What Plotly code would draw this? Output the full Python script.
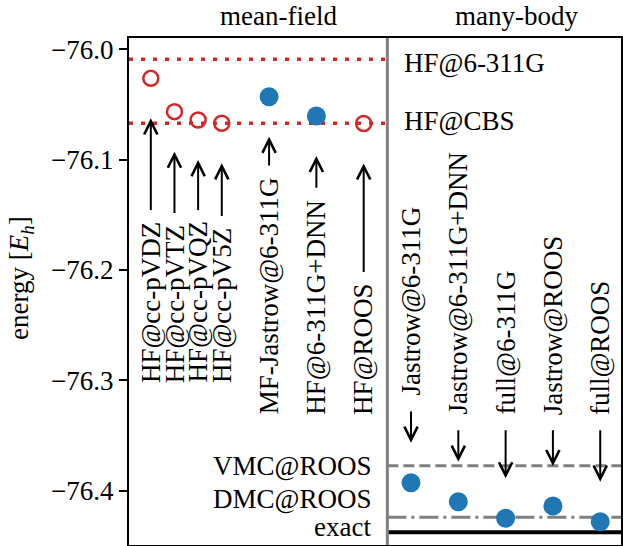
import plotly.graph_objects as go

# ---- data -------------------------------------------------------------
mf_labels = ["HF@cc-pVDZ", "HF@cc-pVTZ", "HF@cc-pVQZ", "HF@cc-pV5Z",
             "MF-Jastrow@6-311G", "HF@6-311G+DNN", "HF@ROOS"]
mf_energy = [-76.0263, -76.0565, -76.0641, -76.0670, -76.0430, -76.0604, -76.0672]
mf_is_reference = [True, True, True, True, False, False, True]

mb_labels = ["Jastrow@6-311G", "Jastrow@6-311G+DNN", "full@6-311G",
             "Jastrow@ROOS", "full@ROOS"]
mb_energy = [-76.3928, -76.4100, -76.4250, -76.4139, -76.4281]

ref_labels = ["HF@6-311G", "HF@CBS", "VMC@ROOS", "DMC@ROOS", "exact"]
ref_energy = [-76.0091, -76.0671, -76.3773, -76.4241, -76.4377]

tick_values = [-76.0, -76.1, -76.2, -76.3, -76.4]
tick_labels = ["\u221276.0", "\u221276.1", "\u221276.2", "\u221276.3", "\u221276.4"]

# ---- layout constants ---------------------------------------------------
W, H = 623, 546
M_L, M_R, M_T, M_B = 129, 0, 38, 1
PLOT_H = H - M_T - M_B
X_RANGE = [-0.461, 9.939]
Y_RANGE = [-76.4492, -75.98976]
SEPARATOR = 5.0
mf_x = [0, 0.5, 1.0, 1.5, 2.5, 3.5, 4.5]
mb_x = [5.5, 6.5, 7.5, 8.5, 9.5]
mf_label_base = [-76.304, -76.304, -76.304, -76.304, -76.333, -76.333, -76.333]
mb_label_base = [-76.316, -76.333, -76.333, -76.333, -76.333]

FONT = "Liberation Serif"
FS = 27
RED, BLUE, GRAY = "#d62728", "#1f77b4", "#808080"
ARROW_GAP = 12       # px between label end and arrow tail
ARROW_STANDOFF = 40  # px between arrow tip and marker

# Times-metric advance widths (per 1000 em) used to size rotated labels
ADV = {'H': 722, 'F': 556, '@': 921, 'c': 444, '-': 333, 'p': 500, 'V': 722,
       'D': 722, 'Z': 611, 'T': 611, 'Q': 722, '5': 500, 'M': 889, 'J': 389,
       'a': 444, 's': 389, 't': 278, 'r': 333, 'o': 500, 'w': 722, '6': 500,
       '3': 500, '1': 500, 'G': 722, '+': 564, 'N': 722, 'R': 667, 'O': 722,
       'S': 556, 'u': 500, 'l': 278, 'f': 333}


def text_len(s):
    return sum(ADV.get(ch, 500) for ch in s) * FS / 1000.0


def ypx(e):
    return M_T + (Y_RANGE[1] - e) / (Y_RANGE[1] - Y_RANGE[0]) * PLOT_H


fig = go.Figure()

# reference levels
line_styles = {
    "HF@6-311G": dict(color=RED, width=3.5, dash="4px,8px"),
    "HF@CBS": dict(color=RED, width=3.5, dash="4px,8px"),
    "VMC@ROOS": dict(color=GRAY, width=3, dash="11px,5px"),
    "DMC@ROOS": dict(color=GRAY, width=3, dash="19px,5px,3px,5px"),
    "exact": dict(color="black", width=4),
}
mean_field_levels = {"HF@6-311G", "HF@CBS"}
for lab, e in zip(ref_labels, ref_energy):
    if lab in mean_field_levels:
        xs = [X_RANGE[0], SEPARATOR]
    else:
        xs = [SEPARATOR, X_RANGE[1]]
    fig.add_trace(go.Scatter(x=xs, y=[e, e], mode="lines",
                             line=line_styles[lab], hoverinfo="skip"))

# panel separator
fig.add_shape(type="line", xref="x", yref="paper", x0=SEPARATOR, x1=SEPARATOR,
              y0=0, y1=1, line=dict(color=GRAY, width=3))

# markers
ref_x = [x for x, r in zip(mf_x, mf_is_reference) if r]
ref_y = [e for e, r in zip(mf_energy, mf_is_reference) if r]
own_x = [x for x, r in zip(mf_x, mf_is_reference) if not r] + mb_x
own_y = [e for e, r in zip(mf_energy, mf_is_reference) if not r] + mb_energy

fig.add_trace(go.Scatter(x=ref_x, y=ref_y, mode="markers",
                         marker=dict(symbol="circle-open", size=15, color=RED,
                                     line=dict(width=2.5, color=RED))))
fig.add_trace(go.Scatter(x=own_x, y=own_y, mode="markers",
                         marker=dict(symbol="circle", size=19, color=BLUE)))

annotations = []
ARROW = dict(showarrow=True, arrowhead=5, arrowsize=1.3, arrowwidth=2,
             arrowcolor="black", standoff=ARROW_STANDOFF)

# mean-field labels: text below, arrow pointing up at the marker
for lab, x, e, base in zip(mf_labels, mf_x, mf_energy, mf_label_base):
    annotations.append(dict(x=x, y=base, xref="x", yref="y", text=lab,
                            textangle=-90, showarrow=False, xanchor="center",
                            yanchor="bottom", font=dict(family=FONT, size=FS, color="black")))
    tail = ypx(base) - text_len(lab) - ARROW_GAP
    annotations.append(dict(x=x, y=e, xref="x", yref="y", text="",
                            ax=0, ay=tail - ypx(e), **ARROW))

# many-body labels: text above, arrow pointing down at the marker
for lab, x, e, base in zip(mb_labels, mb_x, mb_energy, mb_label_base):
    annotations.append(dict(x=x, y=base, xref="x", yref="y", text=lab,
                            textangle=-90, showarrow=False, xanchor="center",
                            yanchor="bottom", font=dict(family=FONT, size=FS, color="black")))
    tail = ypx(base) + ARROW_GAP
    annotations.append(dict(x=x, y=e, xref="x", yref="y", text="",
                            ax=0, ay=tail - ypx(e), **ARROW))

# reference-level captions
caption_pos = {
    "HF@6-311G": dict(x=5.32, xanchor="left", yshift=-4),
    "HF@CBS": dict(x=5.32, xanchor="left", yshift=2),
    "VMC@ROOS": dict(x=4.7, xanchor="right", yshift=0),
    "DMC@ROOS": dict(x=4.7, xanchor="right", yshift=18),
    "exact": dict(x=4.7, xanchor="right", yshift=5),
}
for lab, e in zip(ref_labels, ref_energy):
    p = caption_pos[lab]
    annotations.append(dict(x=p["x"], y=e, xref="x", yref="y", text=lab,
                            showarrow=False, xanchor=p["xanchor"], yanchor="middle",
                            yshift=p["yshift"],
                            font=dict(family=FONT, size=FS, color="black")))

# panel titles
for lab, xc in (("mean-field", 2.697), ("many-body", 7.73)):
    annotations.append(dict(x=xc, y=1, xref="x", yref="paper", text=lab,
                            showarrow=False, xanchor="center", yanchor="bottom",
                            yshift=5, font=dict(family=FONT, size=FS, color="black")))

# y-axis title
annotations.append(dict(x=(20 - M_L) / (W - M_L - M_R), y=(H - M_B - 277.5) / PLOT_H,
                        xref="paper", yref="paper",
                        text="energy [<i>E</i><sub><i>h</i></sub>]",
                        textangle=-90, showarrow=False, xanchor="center",
                        yanchor="middle", font=dict(family=FONT, size=FS, color="black")))

fig.update_layout(
    width=W, height=H, autosize=False,
    margin=dict(l=M_L, r=M_R, t=M_T, b=M_B, pad=0),
    plot_bgcolor="white", paper_bgcolor="white",
    showlegend=False,
    annotations=annotations,
    font=dict(family=FONT, size=FS, color="black"),
)
fig.update_xaxes(range=X_RANGE, showgrid=False, zeroline=False,
                 showticklabels=False, ticks="", showline=True, mirror=True,
                 linecolor="black", linewidth=2)
fig.update_yaxes(range=Y_RANGE, showgrid=False, zeroline=False,
                 tickvals=tick_values, ticktext=tick_labels,
                 ticks="outside", ticklen=8, tickwidth=2, tickcolor="black",
                 tickfont=dict(family=FONT, size=FS, color="black"),
                 showline=True, mirror=True, linecolor="black", linewidth=2)

fig.write_html("out.html")
